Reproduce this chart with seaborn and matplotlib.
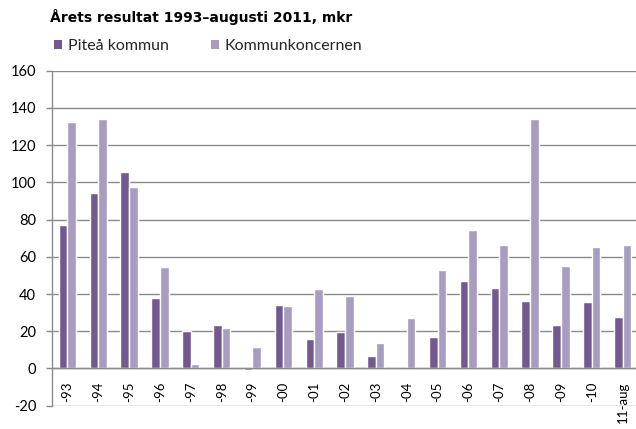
import matplotlib
matplotlib.use("Agg")
import matplotlib.pyplot as plt
from matplotlib.patches import Patch
import seaborn as sns
import pandas as pd

# ---- data ----
categories = ["-93", "-94", "-95", "-96", "-97", "-98", "-99", "-00", "-01", "-02",
              "-03", "-04", "-05", "-06", "-07", "-08", "-09", "-10", "11-aug"]
pitea_kommun = [77.2, 94.3, 105.7, 38.1, 20.1, 23.3, -0.9, 34.3, 15.6, 19.4,
                6.8, 0.4, 16.7, 47.0, 43.1, 36.4, 23.3, 35.9, 27.6]
kommunkoncernen = [132.7, 133.8, 97.5, 54.6, 2.3, 21.7, 11.3, 33.8, 42.5, 39.1,
                   13.8, 27.1, 53.0, 74.3, 66.1, 134.3, 55.1, 65.5, 66.1]
series_names = ["Piteå kommun", "Kommunkoncernen"]
y_ticks = [-20, 0, 20, 40, 60, 80, 100, 120, 140, 160]
title = "Årets resultat 1993–augusti 2011, mkr"

dark = "#725A91"
light = "#A89DC1"
grid_c = "#8A8A8A"

df = pd.DataFrame({
    "year": categories * 2,
    "value": pitea_kommun + kommunkoncernen,
    "series": [series_names[0]] * len(categories) + [series_names[1]] * len(categories),
})

sns.set_theme(style="white")
plt.rcParams["font.family"] = ["Lato", "DejaVu Sans"]

W, H = 636, 429
fig = plt.figure(figsize=(W / 100, H / 100), dpi=100)
ax_left, ax_right = 52, 638
ax_top, ax_bottom = 70.7, 405.7
ax = fig.add_axes([ax_left / W, 1 - ax_bottom / H, (ax_right - ax_left) / W, (ax_bottom - ax_top) / H])

sns.barplot(data=df, x="year", y="value", hue="series", order=categories,
            hue_order=series_names, palette=[dark, light], width=0.56,
            saturation=1, ax=ax, legend=False, errorbar=None)

ax.set_ylim(-20, 160)
ax.set_xlim(-0.5, 18.5)
ax.set_yticks(y_ticks)
ax.set_yticklabels([str(v) for v in y_ticks], fontsize=10.5, color="#000000")
ax.yaxis.grid(True, color=grid_c, linewidth=1.0)
ax.set_axisbelow(True)
ax.set_xlabel("")
ax.set_ylabel("")

for s in ["top", "right"]:
    ax.spines[s].set_visible(False)
ax.spines["left"].set_color(grid_c)
ax.spines["left"].set_linewidth(1.0)
ax.spines["bottom"].set_position(("data", 0))
ax.spines["bottom"].set_color(grid_c)
ax.spines["bottom"].set_linewidth(1.0)

ax.tick_params(axis="y", which="both", left=True, length=4.3, width=1.0,
               color=grid_c, pad=7)
ax.tick_params(axis="x", which="both", bottom=False, length=0, pad=9.5)
for lbl in ax.get_xticklabels():
    lbl.set_rotation(90)
    lbl.set_fontsize(9.5)
    lbl.set_color("#000000")
    lbl.set_va("top")
    lbl.set_ha("center")

t = fig.text(50 / W, 1 - 21.7 / H, title, fontsize=10, fontweight="bold",
             family=["DejaVu Sans"], ha="left", va="baseline", color="#000000")
# fit the title to the reference width (about 301 px)
fig.canvas.draw()
w = t.get_window_extent().width
t.set_fontsize(10 * 301 / w)

leg_fs = 11.5
em = leg_fs * 100 / 72
handles = [Patch(facecolor=dark, edgecolor="none"), Patch(facecolor=light, edgecolor="none")]
fig.legend(handles, series_names, loc="center left",
           bbox_to_anchor=(53.5 / W, 1 - 46 / H), ncol=2, frameon=False,
           fontsize=leg_fs, handlelength=8.3 / em, handleheight=8.3 / em,
           handletextpad=6 / em, columnspacing=42 / em, borderpad=0,
           borderaxespad=0)

fig.savefig("out.png", dpi=100)
